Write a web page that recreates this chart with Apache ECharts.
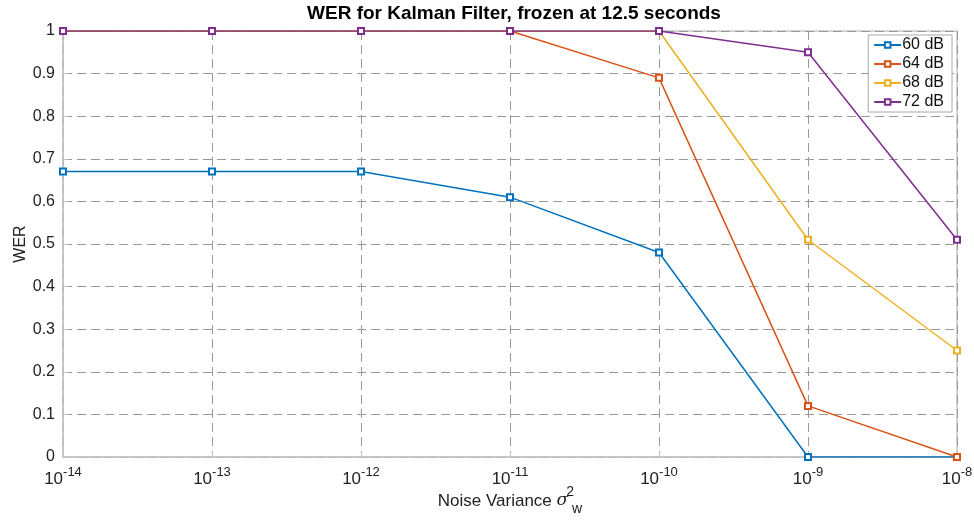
<!DOCTYPE html>
<html>
<head>
<meta charset="utf-8">
<script src="https://cdn.jsdelivr.net/npm/echarts@6/dist/echarts.min.js"></script>
<style>
  html, body { margin: 0; padding: 0; background: #fff; }
  #chart { width: 974px; height: 523px; }
</style>
</head>
<body>
<div id="chart"></div>
<script>
// Noise variance values (x axis, log scale)
const noiseVariance = [1e-14, 1e-13, 1e-12, 1e-11, 1e-10, 1e-9, 1e-8];

// WER per SNR level
const wer60 = [0.67, 0.67, 0.67, 0.61, 0.48, 0.00, 0.00];
const wer64 = [1.00, 1.00, 1.00, 1.00, 0.89, 0.12, 0.00];
const wer68 = [1.00, 1.00, 1.00, 1.00, 1.00, 0.51, 0.25];
const wer72 = [1.00, 1.00, 1.00, 1.00, 1.00, 0.95, 0.51];

const seriesNames = ['60 dB', '64 dB', '68 dB', '72 dB'];
const seriesColors = ['#0072BD', '#D95319', '#EDB120', '#7E2F8E'];
const seriesData = [wer60, wer64, wer68, wer72];

const yTicks = [0, 0.1, 0.2, 0.3, 0.4, 0.5, 0.6, 0.7, 0.8, 0.9, 1];

const FONT = '"Liberation Sans", Arial, Helvetica, sans-serif';

const chart = echarts.init(document.getElementById('chart'), null, { renderer: 'canvas' });

function pairs(ys) {
  return ys.map((y, i) => [noiseVariance[i], y]);
}

const option = {
  animation: false,
  backgroundColor: '#fff',
  textStyle: { fontFamily: FONT },
  title: {
    text: 'WER for Kalman Filter, frozen at 12.5 seconds',
    left: 509,
    top: -1,
    textAlign: 'center',
    textStyle: { fontFamily: FONT, fontSize: 19, fontWeight: 'bold', color: '#000' }
  },
  legend: {
    orient: 'vertical',
    right: 22,
    top: 35,
    data: seriesNames,
    backgroundColor: '#fff',
    borderColor: '#a8a8a8',
    borderWidth: 1,
    borderRadius: 0,
    padding: [2, 8, 2, 5],
    itemGap: 3,
    itemWidth: 27,
    itemHeight: 7,
    textStyle: { fontFamily: FONT, fontSize: 16, lineHeight: 16, color: '#111', padding: [0, 0, 0, -4] }
  },
  grid: {
    left: 63, right: 17, top: 31, bottom: 66,
    show: true,
    borderColor: '#a9a9a9',
    borderWidth: 1,
    containLabel: false,
    outerBoundsMode: 'none'
  },
  xAxis: {
    type: 'log',
    logBase: 10,
    min: 1e-14,
    max: 1e-8,
    name: 'Noise Variance {sig|σ}{sup|2}{sub|w}',
    nameLocation: 'middle',
    nameGap: 28,
    nameMoveOverlap: false,
    nameTextStyle: {
      fontFamily: FONT, fontSize: 17, color: '#222',
      rich: {
        sig: { fontFamily: '"DejaVu Serif", serif', fontStyle: 'italic', fontSize: 17, color: '#222' },
        sup: { fontSize: 14, color: '#222', width: 0, padding: [0, 0, 18, 2] },
        sub: { fontSize: 14, color: '#222', padding: [16, 0, 0, 2] }
      }
    },
    axisLine: { show: true, lineStyle: { color: '#c4c4c4', width: 1.5 } },
    axisTick: { show: true, inside: true, length: 5, lineStyle: { color: '#c4c4c4' } },
    minorTick: { show: false },
    axisLabel: {
      margin: 7,
      color: '#222',
      formatter: function (v) {
        const e = Math.round(Math.log10(v));
        return '{b|10}{e|' + e + '}';
      },
      rich: {
        b: { fontFamily: FONT, fontSize: 17, color: '#222', padding: [7, 0, 0, 0] },
        e: { fontFamily: FONT, fontSize: 13, color: '#222', padding: [0, 0, 7, 0] }
      }
    },
    splitLine: { show: true, lineStyle: { color: '#999', type: [9, 5], width: 1 } }
  },
  yAxis: {
    type: 'value',
    min: 0,
    max: 1,
    interval: 0.1,
    name: 'WER',
    nameLocation: 'middle',
    nameGap: 34,
    nameMoveOverlap: false,
    nameTextStyle: { fontFamily: FONT, fontSize: 16, color: '#222' },
    axisLine: { show: true, lineStyle: { color: '#c4c4c4', width: 1.5 } },
    axisTick: { show: true, inside: true, length: 5, lineStyle: { color: '#c4c4c4' } },
    axisLabel: {
      margin: 8,
      fontFamily: FONT, fontSize: 16, color: '#222',
      formatter: function (v) {
        const t = yTicks.find(t => Math.abs(t - v) < 1e-9);
        return t === undefined ? '' : String(+t.toFixed(1));
      }
    },
    splitLine: { show: true, lineStyle: { color: '#999', type: [9, 5], width: 1 } }
  },
  series: seriesData.map((d, i) => ({
    name: seriesNames[i],
    type: 'line',
    data: pairs(d),
    color: seriesColors[i],
    symbol: 'emptyRect',
    symbolSize: 6,
    showAllSymbol: true,
    lineStyle: { width: 1.5, color: seriesColors[i] },
    itemStyle: { color: seriesColors[i], borderWidth: 1.5 },
    z: 2 + i
  }))
};

chart.setOption(option);
</script>
</body>
</html>
